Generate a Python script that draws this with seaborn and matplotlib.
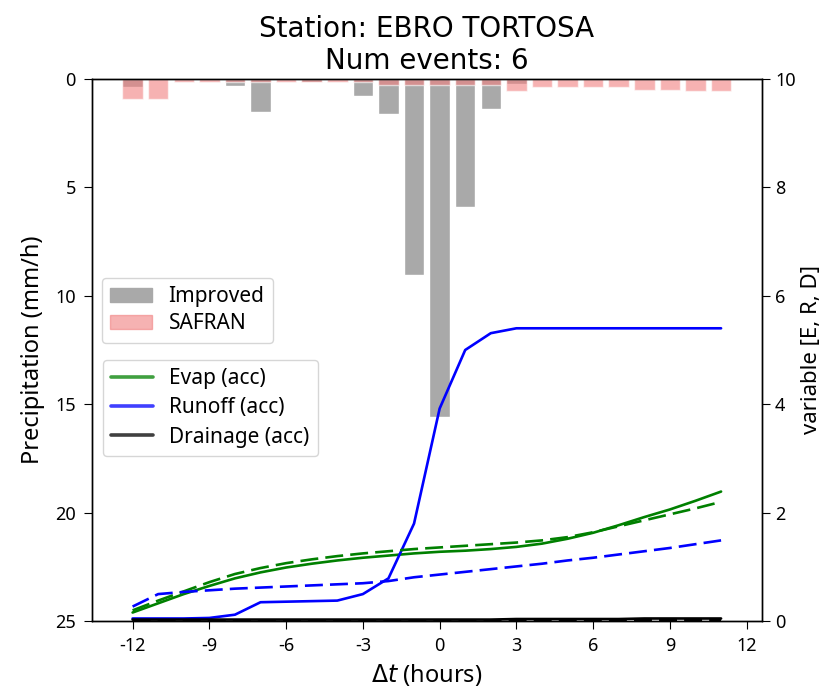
import numpy as np
import pandas as pd
import matplotlib
matplotlib.use("Agg")
import matplotlib.pyplot as plt
from matplotlib.lines import Line2D
from matplotlib.patches import Patch
import seaborn as sns

# Hours relative to the event peak
hours = list(range(-12, 12))

# Precipitation (mm/h)
precip_improved = [0.40, 0.0, 0.0, 0.0, 0.35, 1.55, 0.0, 0.15, 0.0, 0.81, 1.63, 9.05,
                   15.6, 5.9, 1.40, 0.25, 0.0, 0.0, 0.0, 0.0, 0.0, 0.0, 0.0, 0.0]
precip_safran = [0.92, 0.92, 0.17, 0.17, 0.17, 0.17, 0.17, 0.17, 0.17, 0.17, 0.28, 0.28,
                 0.28, 0.28, 0.28, 0.58, 0.40, 0.40, 0.40, 0.40, 0.50, 0.50, 0.58, 0.58]

# Accumulated variables, improved forcing (solid)
evap_imp = [0.16, 0.33, 0.50, 0.65, 0.79, 0.90, 0.99, 1.06, 1.12, 1.17, 1.21, 1.25,
            1.28, 1.30, 1.33, 1.37, 1.43, 1.52, 1.63, 1.77, 1.92, 2.06, 2.22, 2.39]
runoff_imp = [0.05, 0.05, 0.05, 0.06, 0.12, 0.35, 0.36, 0.37, 0.38, 0.50, 0.79, 1.80,
              3.92, 5.00, 5.31, 5.40, 5.40, 5.40, 5.40, 5.40, 5.40, 5.40, 5.40, 5.40]
drain_imp = [0.03, 0.03, 0.03, 0.03, 0.03, 0.03, 0.03, 0.03, 0.03, 0.03, 0.03, 0.03,
             0.03, 0.03, 0.03, 0.04, 0.04, 0.04, 0.04, 0.04, 0.05, 0.05, 0.05, 0.05]

# Accumulated variables, SAFRAN forcing (dashed)
evap_saf = [0.20, 0.38, 0.55, 0.72, 0.87, 0.98, 1.07, 1.14, 1.20, 1.25, 1.29, 1.33,
            1.36, 1.39, 1.42, 1.45, 1.49, 1.55, 1.64, 1.75, 1.86, 1.97, 2.08, 2.20]
runoff_saf = [0.27, 0.50, 0.54, 0.57, 0.60, 0.62, 0.64, 0.66, 0.68, 0.70, 0.74, 0.81,
              0.86, 0.91, 0.96, 1.01, 1.06, 1.12, 1.17, 1.23, 1.29, 1.35, 1.42, 1.49]
drain_saf = [0.01, 0.01, 0.01, 0.01, 0.01, 0.01, 0.01, 0.01, 0.01, 0.01, 0.01, 0.01,
             0.01, 0.01, 0.01, 0.01, 0.02, 0.02, 0.02, 0.02, 0.02, 0.02, 0.02, 0.02]

xticks = [-12, -9, -6, -3, 0, 3, 6, 9, 12]
xtick_labels = ["-12", "-9", "-6", "-3", "0", "3", "6", "9", "12"]

sns.set_style("ticks")
plt.rcParams["font.family"] = ["DejaVu Sans"]
plt.rcParams["axes.unicode_minus"] = False
plt.rcParams["text.color"] = "black"
plt.rcParams["axes.labelcolor"] = "black"
plt.rcParams["xtick.color"] = "black"
plt.rcParams["ytick.color"] = "black"
plt.rcParams["mathtext.fontset"] = "dejavusans"

LABEL_FONT = ["Noto Sans", "DejaVu Sans"]

fig = plt.figure(figsize=(8.28, 6.91), dpi=100)
ax1 = fig.add_axes([0.111, 0.101, 0.809, 0.785])

bars = pd.DataFrame({"hour": hours, "improved": precip_improved, "safran": precip_safran})
sns.barplot(data=bars, x="hour", y="improved", native_scale=True, color="darkgray",
            saturation=1, width=0.8, ax=ax1)
sns.barplot(data=bars, x="hour", y="safran", native_scale=True, color="lightcoral",
            saturation=1, width=0.8, alpha=0.6, ax=ax1)
ax1.set_ylim(25, 0)
ax1.set_yticks([0, 5, 10, 15, 20, 25])
ax1.set_xlim(-13.59, 12.59)
ax1.set_xticks(xticks)
ax1.set_xticklabels(xtick_labels)
ax1.set_ylabel("Precipitation (mm/h)", fontsize=17, family=LABEL_FONT, labelpad=7)
ax1.set_xlabel(r"$\Delta t$ (hours)", fontsize=17, family=LABEL_FONT, labelpad=5)
ax1.tick_params(labelsize=13, length=5.5, pad=6)
for t in ax1.get_xticklabels() + ax1.get_yticklabels():
    t.set_family(LABEL_FONT)

ax2 = ax1.twinx()
lines = pd.DataFrame({
    "hour": hours,
    "evap_imp": evap_imp, "runoff_imp": runoff_imp, "drain_imp": drain_imp,
    "evap_saf": evap_saf, "runoff_saf": runoff_saf, "drain_saf": drain_saf,
})
lw = 1.9
for col, color in [("evap_imp", "green"), ("runoff_imp", "blue"), ("drain_imp", "black")]:
    sns.lineplot(data=lines, x="hour", y=col, color=color, lw=lw, ax=ax2)
for col, color in [("evap_saf", "green"), ("runoff_saf", "blue"), ("drain_saf", "black")]:
    sns.lineplot(data=lines, x="hour", y=col, color=color, lw=lw, ax=ax2,
                 linestyle=(0, (6.8, 2.7)))
ax2.set_ylim(0, 10)
ax2.set_yticks([0, 2, 4, 6, 8, 10])
ax2.set_xlim(-13.59, 12.59)
ax2.set_ylabel("variable [E, R, D]", fontsize=16, family=LABEL_FONT, labelpad=4)
ax2.set_xlabel("")
ax2.tick_params(labelsize=13, length=5.5, pad=4)
for t in ax2.get_yticklabels():
    t.set_family(LABEL_FONT)

for ax in (ax1, ax2):
    for sp in ax.spines.values():
        sp.set_visible(True)
        sp.set_color("black")
        sp.set_linewidth(1.0)

legend_font = {"family": LABEL_FONT, "size": 15}
bar_handles = [Patch(color="darkgray", label="Improved"),
               Patch(color="lightcoral", alpha=0.6, label="SAFRAN")]
leg1 = ax1.legend(handles=bar_handles, loc="upper left", bbox_to_anchor=(0.015, 0.633),
                  borderaxespad=0, prop=legend_font, frameon=True, labelspacing=0.3)
line_handles = [Line2D([], [], color="green", lw=2.6, alpha=0.75, label="Evap (acc)"),
                Line2D([], [], color="blue", lw=2.6, alpha=0.75, label="Runoff (acc)"),
                Line2D([], [], color="black", lw=2.6, alpha=0.75, label="Drainage (acc)")]
leg2 = ax2.legend(handles=line_handles, loc="upper left", bbox_to_anchor=(0.016, 0.482),
                  borderaxespad=0, prop=legend_font, frameon=True, labelspacing=0.4)

ax1.set_title("Station: EBRO TORTOSA\nNum events: 6", fontsize=20, pad=7)

fig.savefig("out.png", dpi=100)
